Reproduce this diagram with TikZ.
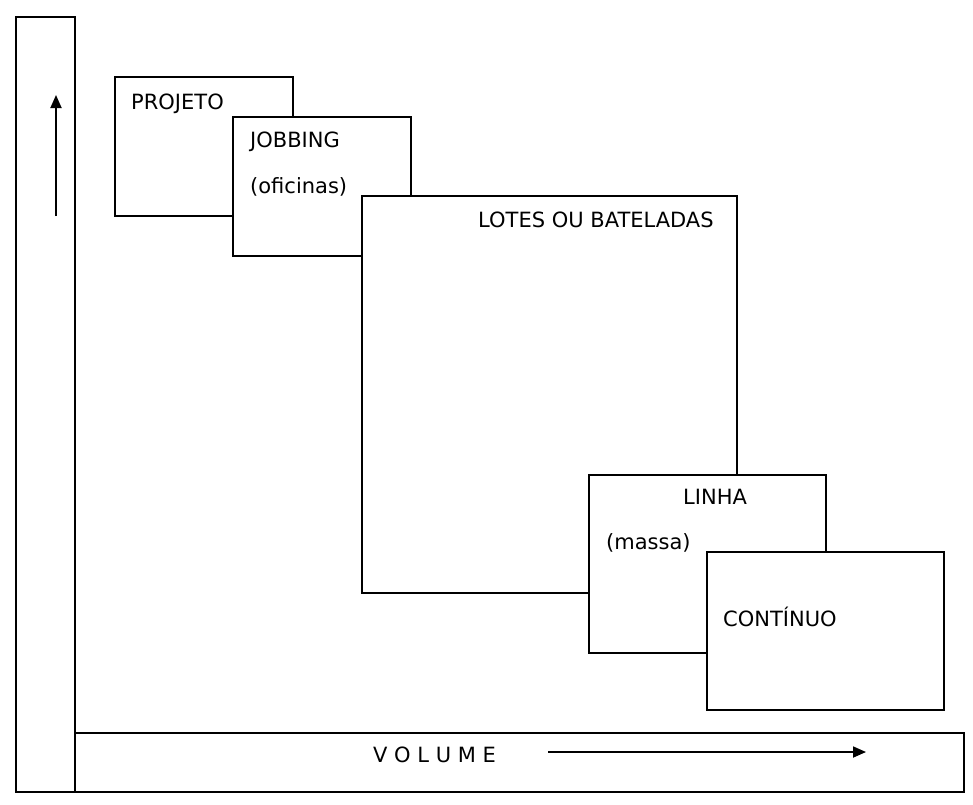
\documentclass[tikz,border=0pt]{standalone}
\usepackage{fontspec}
\setmainfont{DejaVu Sans}
\usetikzlibrary{arrows.meta}
\begin{document}
\begin{tikzpicture}[x=1pt,y=-1pt,
  box/.style={draw,fill=white,line width=1.5pt,rectangle,inner sep=0pt,anchor=north west},
  lbl/.style={inner sep=0pt,anchor=base west,font=\fontsize{21}{24}\selectfont},
  arr/.style={line width=1.8pt,-{Triangle[length=13pt,width=11pt]}}]
\useasboundingbox[fill=white] (0,0) rectangle (973,804);
% axes bars
\node[box,minimum width=59pt,minimum height=775pt] (ybar) at (15,16) {};
\node[box,minimum width=889pt,minimum height=59pt] (xbar) at (74,732) {};
% vertical arrow
\coordinate (ya) at (56,216);
\coordinate (yb) at (56,95);
\draw[arr] (ya) -- (yb);
% horizontal arrow and label
\node[lbl] (vol) at (373,762) {V O L U M E};
\coordinate (xa) at (548,752);
\coordinate (xb) at (866,752);
\draw[arr] (xa) -- (xb);
% boxes
\node[box,minimum width=178pt,minimum height=139pt] (projeto) at (114,76) {};
\node[lbl] (tprojeto) at (131,109) {PROJETO};
\node[box,minimum width=178pt,minimum height=139pt] (jobbing) at (232,116) {};
\node[lbl] (tjobbing) at (250,147) {JOBBING};
\node[lbl] (tofic) at (250,193) {(oficinas)};
\node[box,minimum width=375pt,minimum height=397pt] (lotes) at (361,195) {};
\node[lbl] (tlotes) at (478,227) {LOTES OU BATELADAS};
\node[box,minimum width=237pt,minimum height=178pt] (linha) at (588,474) {};
\node[lbl] (tlinha) at (683,504) {LINHA};
\node[lbl] (tmassa) at (606,549) {(massa)};
\node[box,minimum width=237pt,minimum height=158pt] (continuo) at (706,551) {};
\node[lbl] (tcont) at (723,626) {CONTÍNUO};
\end{tikzpicture}
\end{document}
